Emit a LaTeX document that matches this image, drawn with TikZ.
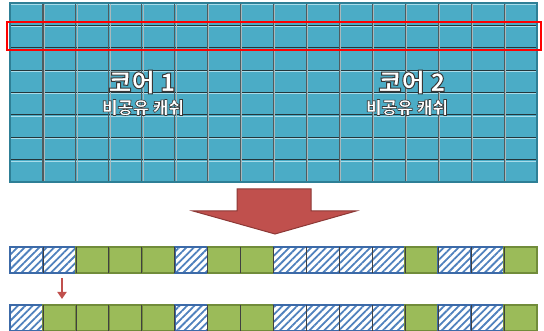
\documentclass[tikz,border=0pt]{standalone}
\usepackage{fontspec}
\newfontfamily\kr{Noto Sans CJK KR}
\usetikzlibrary{patterns.meta,calc,arrows.meta}
\definecolor{aqua}{HTML}{4BACC6}
\definecolor{aquadk}{HTML}{2E7F96}
\definecolor{gridln}{HTML}{24363B}
\definecolor{gridlt}{HTML}{A8DCEA}
\definecolor{gridvl}{HTML}{4E5C60}
\definecolor{gridvlt}{HTML}{A9B8BC}
\definecolor{hatchc}{HTML}{4F81BD}
\definecolor{hatchb}{HTML}{3C6AA8}
\definecolor{grn}{HTML}{9BBB59}
\definecolor{grnb}{HTML}{718C3A}
\definecolor{arr}{HTML}{C0504D}
\definecolor{arrb}{HTML}{8C3836}
\newcommand\outlinetext[2]{\special{pdf:literal direct 0.22 G 2 Tr #1 w}#2\special{pdf:literal direct 0 Tr 0.4 w}}
\tikzset{
  cellbase/.style={rectangle,minimum width=32.94pt,minimum height=26pt,inner sep=0,outer sep=0,line width=1.6pt},
  cellH/.style={cellbase,draw=hatchb,preaction={fill=white},pattern={Lines[angle=45,distance=5.2pt,line width=1.8pt]},pattern color=hatchc},
  cellG/.style={cellbase,draw=grnb,fill=grn},
  sepline/.style={draw=black!75,line width=0.7pt},
  bigtxt/.style={font=\kr\bfseries\fontsize{25}{25}\selectfont,inner sep=0,text=white},
  smtxt/.style={font=\kr\bfseries\fontsize{17}{17}\selectfont,inner sep=0,text=white},
}
\begin{document}
\begin{tikzpicture}[x=1pt,y=1pt]
\useasboundingbox (0,0) rectangle (544,-331);
% cache grid
\fill[aqua] (10,-3) rectangle (537,-182);
\foreach \r in {1,...,7}{
  \draw[gridln,line width=1pt] (10,{-3-\r*22.375}) -- (537,{-3-\r*22.375});
}
\foreach \r in {0,...,7}{
  \draw[gridlt,line width=0.8pt] (11,{-4.4-\r*22.375}) -- (536,{-4.4-\r*22.375});
}
\foreach \c in {1,...,15}{
  \draw[gridvl,line width=1.2pt] ({10+\c*32.94},-3) -- ({10+\c*32.94},-182);
  \draw[gridvlt,line width=0.5pt] ({11.1+\c*32.94},-3) -- ({11.1+\c*32.94},-182);
}
\draw[aquadk,line width=1.2pt] (10,-3) rectangle (537,-182);
% red highlight
\draw[red,line width=2.8pt] (7,-22) rectangle (541,-50);
% labels
\node[bigtxt] (c1) at (142,-82) {\outlinetext{1}{코어 1}};
\node[smtxt] (n1) at (143,-107.5) {\outlinetext{0.6}{비공유 캐쉬}};
\node[bigtxt] (c2) at (412,-82) {\outlinetext{1}{코어 2}};
\node[smtxt] (n2) at (407,-107.5) {\outlinetext{0.6}{비공유 캐쉬}};
% big arrow
\filldraw[fill=arr,draw=arrb,line width=1pt,line join=miter]
  (237,-189) -- (311,-189) -- (311,-211) -- (356,-211) -- (275,-234) -- (193,-211) -- (237,-211) -- cycle;
% top bar
\foreach \t [count=\i] in {H,H,G,G,G,H,G,G,H,H,H,H,G,H,H,G}{
  \node[cell\t] (a\i) at ({10+(\i-0.5)*32.94},-260) {};
}
\foreach \i in {1,...,15}{
  \draw[sepline] (a\i.north east) -- (a\i.south east);
}
% bottom bar
\foreach \t [count=\i] in {H,G,G,G,G,H,G,G,H,H,H,H,G,H,H,G}{
  \node[cell\t] (b\i) at ({10+(\i-0.5)*32.94},-318) {};
}
\foreach \i in {1,...,15}{
  \draw[sepline] (b\i.north east) -- (b\i.south east);
}
% small arrow
\coordinate (sa) at (62,-278);
\coordinate (sb) at (62,-299);
\draw[arr,line width=2.4pt,-{Triangle[length=7pt,width=9pt]}] (sa) -- (sb);
\end{tikzpicture}
\end{document}
